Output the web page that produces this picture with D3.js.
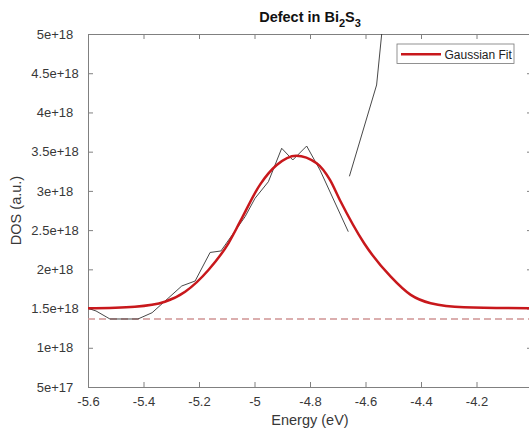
<!DOCTYPE html>
<html>
<head>
<meta charset="utf-8">
<script src="https://cdn.jsdelivr.net/npm/d3@7"></script>
<style>
    body { margin: 0; background: #fff; }
    svg { display: block; font-family: "Liberation Sans", Arial, sans-serif; }
</style>
</head>
<body>
<svg id="chart"></svg>
<script>
// DOS data (two pieces, the second one leaves the top of the axes)
const dosEnergy1 = [-5.600, -5.571, -5.521, -5.470, -5.420, -5.369, -5.262, -5.214, -5.160, -5.121,
    -5.034, -4.998, -4.950, -4.902, -4.862, -4.812, -4.764, -4.662];
const dosValue1 = [1.503, 1.469, 1.367, 1.367, 1.367, 1.447, 1.788, 1.851, 2.215, 2.234,
    2.671, 2.906, 3.117, 3.543, 3.394, 3.572, 3.266, 2.480]; // x 1e18

const dosEnergy2 = [-4.658, -4.560, -4.542, -4.525];
const dosValue2 = [3.186, 4.350, 4.988, 5.550]; // x 1e18

// gaussian fit
const fitEnergy = [-5.600, -5.431, -5.323, -5.250, -5.166, -5.094, -5.052, -4.980, -4.920, -4.850,
    -4.776, -4.728, -4.692, -4.605, -4.509, -4.437, -4.365, -4.245, -4.000];
const fitValue = [1.503, 1.524, 1.587, 1.715, 1.992, 2.332, 2.607, 3.080, 3.330, 3.449,
    3.352, 3.139, 2.880, 2.332, 1.906, 1.674, 1.568, 1.517, 1.503]; // x 1e18

const baselineValue = 1.367e18;

const xTicks = [-5.6, -5.4, -5.2, -5.0, -4.8, -4.6, -4.4, -4.2];
const xTickLabels = ["-5.6", "-5.4", "-5.2", "-5", "-4.8", "-4.6", "-4.4", "-4.2"];
const yTicks = [5e17, 1e18, 1.5e18, 2e18, 2.5e18, 3e18, 3.5e18, 4e18, 4.5e18, 5e18];
const yTickLabels = ["5e+17", "1e+18", "1.5e+18", "2e+18", "2.5e+18", "3e+18", "3.5e+18", "4e+18", "4.5e+18", "5e+18"];

const chartSettings = {
    width: 529,
    height: 439,
    left: 88,
    top: 34,
    right: 532, // box goes a bit past the picture
    bottom: 387,
    tickSize: 5,
};

const svg = d3.select("#chart")
    .attr("width", chartSettings.width)
    .attr("height", chartSettings.height);

const x = d3.scaleLinear().domain([-5.6, -4.0]).range([chartSettings.left, chartSettings.right]);
const y = d3.scaleLinear().domain([5e17, 5e18]).range([chartSettings.bottom, chartSettings.top]);

const axisColor = "#808080";
const labelColor = "#383838";

// clip for lines
svg.append("clipPath").attr("id", "plot-clip")
    .append("rect")
    .attr("x", chartSettings.left)
    .attr("y", chartSettings.top)
    .attr("width", chartSettings.right - chartSettings.left)
    .attr("height", chartSettings.bottom - chartSettings.top);

// axes
const xAxis = svg.append("g")
    .attr("transform", `translate(0,${chartSettings.bottom})`)
    .call(d3.axisBottom(x).tickValues(xTicks).tickSize(-chartSettings.tickSize)
        .tickFormat((d, i) => xTickLabels[i]));
const xAxisTop = svg.append("g")
    .attr("transform", `translate(0,${chartSettings.top})`)
    .call(d3.axisTop(x).tickValues(xTicks).tickSize(-chartSettings.tickSize).tickFormat(""));
const yAxis = svg.append("g")
    .attr("transform", `translate(${chartSettings.left},0)`)
    .call(d3.axisLeft(y).tickValues(yTicks).tickSize(-chartSettings.tickSize)
        .tickFormat((d, i) => yTickLabels[i]));
const yAxisRight = svg.append("g")
    .attr("transform", `translate(${chartSettings.right},0)`)
    .call(d3.axisRight(y).tickValues(yTicks).tickSize(-chartSettings.tickSize).tickFormat(""));

[xAxis, xAxisTop, yAxis, yAxisRight].forEach(g => {
    g.select(".domain").attr("stroke", axisColor).attr("stroke-width", 1);
    g.selectAll(".tick line").attr("stroke", axisColor);
});

xAxis.selectAll(".tick text")
    .attr("font-size", 13)
    .attr("fill", labelColor)
    .attr("y", 10)
    .attr("dy", "0.71em");

yAxis.selectAll(".tick text")
    .attr("font-size", 13)
    .attr("fill", labelColor)
    .attr("text-anchor", "middle")
    .attr("x", -33);

// reference line
svg.append("line")
    .attr("x1", chartSettings.left)
    .attr("x2", chartSettings.right)
    .attr("y1", y(baselineValue))
    .attr("y2", y(baselineValue))
    .attr("stroke", "#d09494")
    .attr("stroke-width", 1.3)
    .attr("stroke-dasharray", "7,4");

const plot = svg.append("g").attr("clip-path", "url(#plot-clip)");

const dosLine = d3.line()
    .x(d => x(d[0]))
    .y(d => y(d[1] * 1e18));

plot.append("path")
    .datum(d3.zip(dosEnergy1, dosValue1))
    .attr("fill", "none")
    .attr("stroke", "#333")
    .attr("stroke-width", 0.9)
    .attr("d", dosLine);

plot.append("path")
    .datum(d3.zip(dosEnergy2, dosValue2))
    .attr("fill", "none")
    .attr("stroke", "#333")
    .attr("stroke-width", 0.9)
    .attr("d", dosLine);

const fitLine = d3.line()
    .x(d => x(d[0]))
    .y(d => y(d[1] * 1e18))
    .curve(d3.curveMonotoneX);

const fitColor = "#c8181c";
plot.append("path")
    .datum(d3.zip(fitEnergy, fitValue))
    .attr("fill", "none")
    .attr("stroke", fitColor)
    .attr("stroke-width", 2.5)
    .attr("d", fitLine);

// legend
const legend = svg.append("g").attr("transform", "translate(397,44)");
legend.append("rect")
    .attr("width", 117)
    .attr("height", 19.5)
    .attr("fill", "#fff")
    .attr("stroke", "#777")
    .attr("stroke-width", 0.8);
legend.append("line")
    .attr("x1", 4).attr("x2", 44)
    .attr("y1", 10.2).attr("y2", 10.2)
    .attr("stroke", fitColor)
    .attr("stroke-width", 2.5);
legend.append("text")
    .attr("x", 47.5)
    .attr("y", 14.5)
    .attr("font-size", 12)
    .attr("fill", "#222")
    .text("Gaussian Fit");

// title
const title = svg.append("text")
    .attr("x", (chartSettings.left + chartSettings.right) / 2)
    .attr("y", 22)
    .attr("text-anchor", "middle")
    .attr("font-size", 14.5)
    .attr("font-weight", "bold")
    .attr("fill", "#111");
title.append("tspan").text("Defect in Bi");
title.append("tspan").attr("font-size", 11).attr("dy", 5).text("2");
title.append("tspan").attr("dy", -5).text("S");
title.append("tspan").attr("font-size", 11).attr("dy", 5).text("3");

// axis labels
svg.append("text")
    .attr("x", (chartSettings.left + chartSettings.right) / 2)
    .attr("y", 425)
    .attr("text-anchor", "middle")
    .attr("font-size", 14.5)
    .attr("fill", labelColor)
    .text("Energy (eV)");

svg.append("text")
    .attr("transform", `translate(21,${(chartSettings.top + chartSettings.bottom) / 2}) rotate(-90)`)
    .attr("text-anchor", "middle")
    .attr("font-size", 14.5)
    .attr("fill", labelColor)
    .text("DOS (a.u.)");
</script>
</body>
</html>
